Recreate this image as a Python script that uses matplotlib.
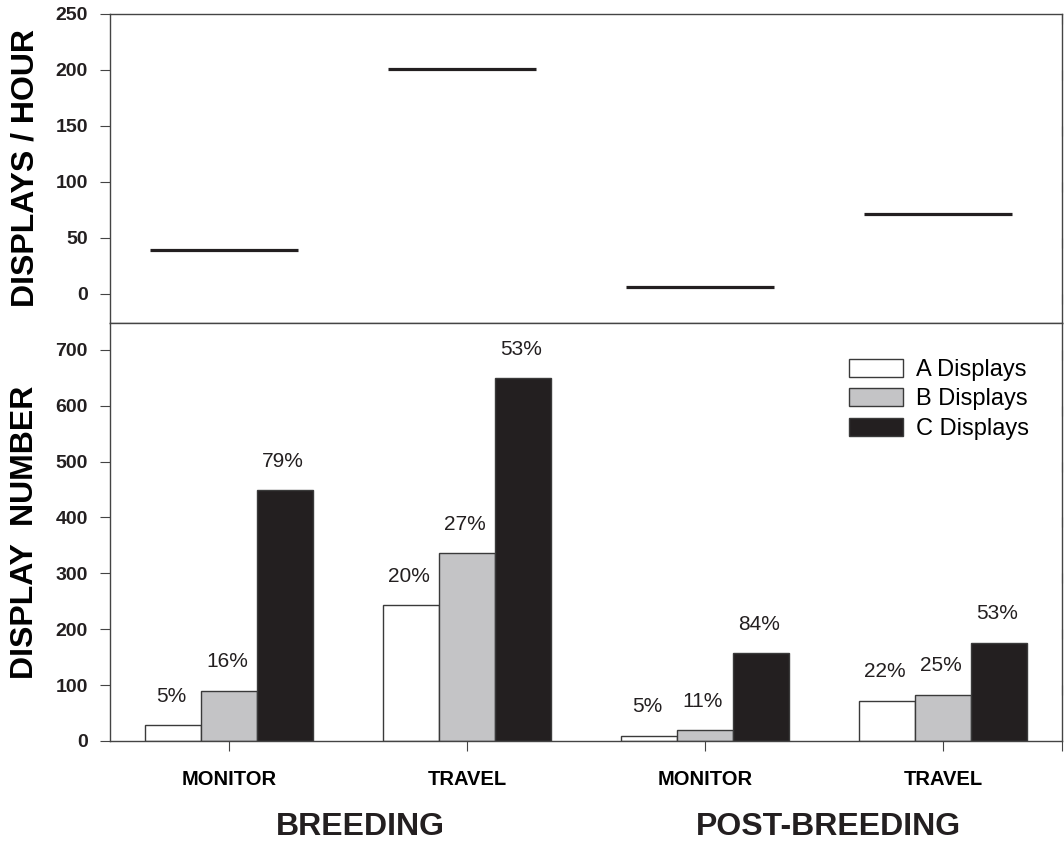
import matplotlib.pyplot as plt
import numpy as np

# data
activities = ["MONITOR", "TRAVEL", "MONITOR", "TRAVEL"]
seasons = ["BREEDING", "POST-BREEDING"]
rate_per_hour = [39, 201, 6.5, 71]
a_displays = [28, 243, 9, 72]
b_displays = [90, 336, 19, 83]
c_displays = [449, 649, 157, 176]
a_pct = ["5%", "20%", "5%", "22%"]
b_pct = ["16%", "27%", "11%", "25%"]
c_pct = ["79%", "53%", "84%", "53%"]

plt.rcParams['font.family'] = ['Liberation Sans', 'DejaVu Sans']
ink = "#231f20"

fig = plt.figure(figsize=(10.64, 8.42), dpi=100)
ax1 = fig.add_axes([0.1034, 0.6164, 0.8947, 0.367])
ax2 = fig.add_axes([0.1034, 0.12, 0.8947, 0.4964])

x = np.arange(1, len(activities) + 1)

# top panel: displays per hour
ax1.hlines(rate_per_hour, x - 0.33, x + 0.29, color=ink, linewidth=2.3)
ax1.set_xlim(0.5, 4.5)
ax1.set_ylim(-26, 250)
ax1.set_yticks([0, 50, 100, 150, 200, 250])
ax1.set_xticks([])
ax1.set_ylabel("DISPLAYS / HOUR", fontsize=23, fontweight="bold", va="center")

# bottom panel: display counts
w = 0.234
series = [(a_displays, "white", "A Displays", a_pct),
          (b_displays, "#c4c4c6", "B Displays", b_pct),
          (c_displays, ink, "C Displays", c_pct)]
for k, (vals, col, lab, pct) in enumerate(series):
    xs = x + (k - 1) * w
    ax2.bar(xs, vals, width=w, color=col, edgecolor="#3a3a3a",
            linewidth=1.0, label=lab)
    for xi, v, p in zip(xs, vals, pct):
        ax2.annotate(p, (xi, v), xytext=(-2, 29), textcoords="offset pixels",
                     ha="center", va="center", fontsize=15, color=ink)

ax2.set_xlim(0.5, 4.5)
ax2.set_ylim(0, 748)
ax2.set_yticks(range(0, 701, 100))
ax2.set_xticks(x)
ax2.set_xticklabels(activities, fontsize=14.5, fontweight="bold")
ax2.tick_params(axis="x", length=7, pad=14, color="#444444")
ax2.set_ylabel("DISPLAY  NUMBER", fontsize=23, fontweight="bold", va="center")

ax2.legend(loc="upper right", bbox_to_anchor=(0.988, 0.965), frameon=False,
           fontsize=17, handlelength=2.3, handleheight=0.8, labelspacing=0.3,
           handletextpad=0.55)

for ax in (ax1, ax2):
    for s in ax.spines.values():
        s.set_color("#444444")
        s.set_linewidth(1.0)
    ax.tick_params(axis="y", which="both", left=True, right=True,
                   labelsize=14, color="#444444", pad=9)
    ax.tick_params(axis="y", direction="out", length=7)
    for lbl in ax.get_yticklabels():
        lbl.set_fontweight("bold")
        lbl.set_color(ink)
    ax.yaxis.set_label_coords(-0.089, 0.5)

# right-hand ticks point inward
for ax in (ax1, ax2):
    for t in ax.yaxis.get_major_ticks():
        t.tick2line.set_marker(3)
        t.tick2line.set_markersize(7)

# season labels under the groups
for i, s in enumerate(seasons):
    ax2.text(1.55 + 1.97 * i, -0.205, s, transform=ax2.get_xaxis_transform(),
             ha="center", va="center", fontsize=23, fontweight="bold", color=ink)

fig.savefig("out.png", dpi=100)
